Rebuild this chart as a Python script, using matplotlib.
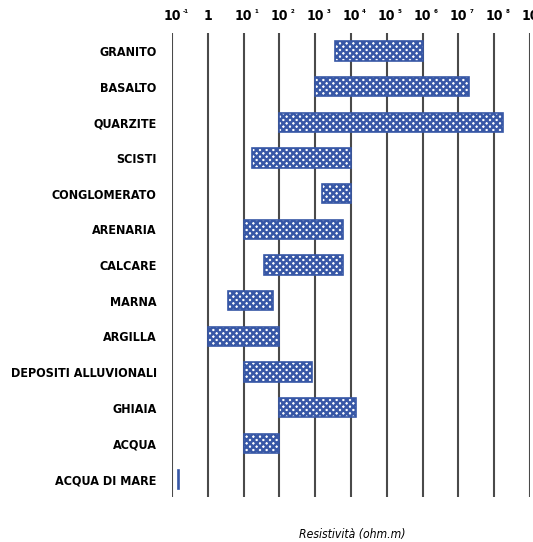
import numpy as np
import matplotlib.pyplot as plt

# resistivita' (ohm.m), valori
rocce = ["GRANITO", "BASALTO", "QUARZITE", "SCISTI", "CONGLOMERATO", "ARENARIA",
         "CALCARE", "MARNA", "ARGILLA", "DEPOSITI ALLUVIONALI", "GHIAIA", "ACQUA",
         "ACQUA DI MARE"]
res_min = [3.5e3, 1e3, 1e2, 17, 1.5e3, 10, 38, 3.7, 1, 10, 1e2, 10, 0.15]
res_max = [1e6, 2e7, 1.8e8, 1e4, 1e4, 5.8e3, 5.8e3, 65, 100, 8e2, 1.4e4, 100, 0.16]
decadi = [-1, 0, 1, 2, 3, 4, 5, 6, 7, 8, 9]

blu = "#3757a6"
fam = "DejaVu Sans"

plt.rcParams["hatch.linewidth"] = 1.8

fig = plt.figure(figsize=(5.33, 5.42), dpi=100)
ax = fig.add_axes([0.3227, 0.083, 0.6717, 0.856])

y = np.arange(len(rocce))
lo = np.array(res_min)
hi = np.array(res_max)
ax.barh(y, hi - lo, left=lo, height=0.54, facecolor="white", edgecolor=blu,
        hatch="xxxxx", linewidth=0, zorder=3)
ax.barh(y, hi - lo, left=lo, height=0.54, fill=False, edgecolor=blu,
        linewidth=1.2, zorder=4)

ax.set_xscale("log")
ax.set_xlim(0.1, 1e9)
ax.set_ylim(len(rocce) - 0.5, -0.5)

ax.set_yticks(y)
ax.set_yticklabels(rocce, fontfamily=fam, fontstretch="condensed",
                   fontweight="bold", fontsize=9)
ax.tick_params(axis="y", length=0, pad=11)

# etichette in alto: "10" con esponente piccolo
ax.xaxis.tick_top()
ax.set_xticks([10.0 ** d for d in decadi])
ax.set_xticklabels(["1" if d == 0 else "10" for d in decadi], fontfamily=fam,
                   fontstretch="condensed", fontweight="bold", fontsize=10)
ax.xaxis.set_minor_locator(plt.NullLocator())
ax.tick_params(axis="x", length=0, pad=7)
for d in decadi[:-1]:
    if d != 0:
        ax.annotate(str(d), xy=(10.0 ** d, 1), xycoords=("data", "axes fraction"),
                    xytext=(8, 13.5), textcoords="offset points", fontsize=4,
                    fontweight="bold", ha="left", va="bottom", annotation_clip=False)

for d in decadi:
    ax.axvline(10.0 ** d, color="#4a4a4a", linewidth=1.5, zorder=2)

for s in ax.spines.values():
    s.set_visible(False)

fig.text(0.66, 0.008, "Resistività (ohm.m)", ha="center", fontstyle="italic",
         fontsize=8.7, fontfamily=fam, fontstretch="condensed")

fig.savefig("out.png", dpi=100)
